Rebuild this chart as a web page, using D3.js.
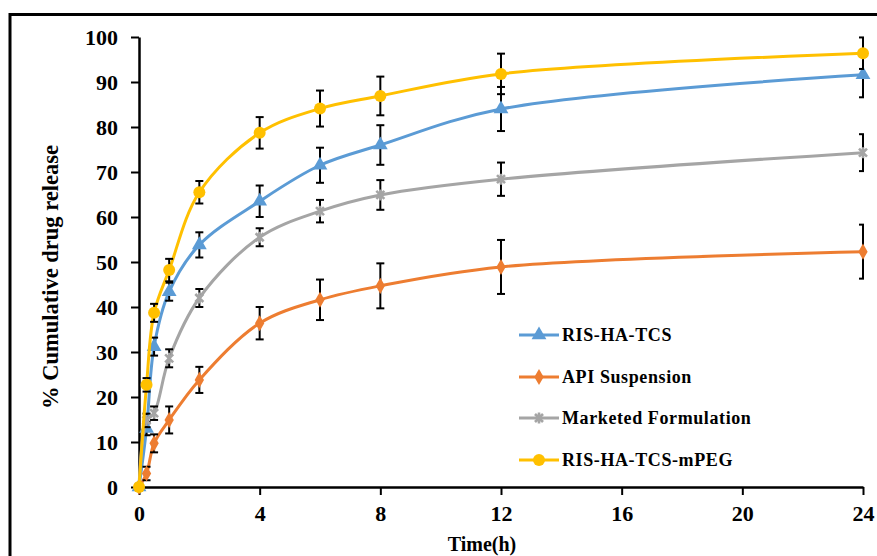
<!DOCTYPE html>
<html>
<head>
<meta charset="utf-8">
<script src="https://cdn.jsdelivr.net/npm/d3@7"></script>
<style>
  body { margin: 0; background: #fff; }
  svg { display: block; font-family: "Liberation Serif", "Times New Roman", serif; font-weight: bold; }
</style>
</head>
<body>
<svg id="chart" width="877" height="556"></svg>
<script>
// time points (h)
var times = [0, 0.25, 0.5, 1, 2, 4, 6, 8, 12, 24];

var risHaTcs      = [0, 13, 31.2, 43.4, 53.8, 63.5, 71.5, 76, 84, 91.6];
var risHaTcsErr   = [0, 1.5, 2, 2, 2.8, 3.5, 3.9, 4.4, 4.9, 5];
var apiSusp       = [0, 3, 9.7, 14.9, 23.8, 36.4, 41.6, 44.7, 48.9, 52.3];
var apiSuspErr    = [0, 1.5, 2, 3, 2.9, 3.6, 4.5, 5, 6, 6];
var marketed      = [0, 14.8, 16.4, 28.6, 42, 55.5, 61.3, 64.9, 68.4, 74.3];
var marketedErr   = [0, 1.5, 1.5, 2, 2, 2, 2.5, 3.3, 3.7, 4.1];
var risMpeg       = [0, 22.7, 38.7, 48.2, 65.5, 78.7, 84.1, 86.9, 91.8, 96.4];
var risMpegErr    = [0, 1.5, 2, 2.5, 2.5, 3.5, 4, 4.3, 4.5, 3.5];

var seriesNames = ["RIS-HA-TCS", "API Suspension", "Marketed Formulation", "RIS-HA-TCS-mPEG"];
var xTicks = [0, 4, 8, 12, 16, 20, 24];
var yTicks = [0, 10, 20, 30, 40, 50, 60, 70, 80, 90, 100];

var series = [
  { name: seriesNames[0], vals: risHaTcs, err: risHaTcsErr, color: "#5b9bd5", marker: "triangle" },
  { name: seriesNames[1], vals: apiSusp,  err: apiSuspErr,  color: "#ed7d31", marker: "diamond" },
  { name: seriesNames[2], vals: marketed, err: marketedErr, color: "#a5a5a5", marker: "star" },
  { name: seriesNames[3], vals: risMpeg,  err: risMpegErr,  color: "#ffc000", marker: "circle" }
];

var svg = d3.select("#chart");

// outer frame (cut off at right & bottom like the source)
svg.append("rect")
  .attr("x", 10).attr("y", 14.5)
  .attr("width", 900).attr("height", 600)
  .attr("fill", "none").attr("stroke", "#000").attr("stroke-width", 3);

var x = d3.scaleLinear().domain([0, 24]).range([139, 863]);
var y = d3.scaleLinear().domain([0, 100]).range([487, 37]);

svg.append("defs").append("clipPath").attr("id", "plotclip")
  .append("rect").attr("x", 120).attr("y", 20).attr("width", 744).attr("height", 480);

// axes
var gx = svg.append("g")
  .attr("transform", "translate(0," + y(0) + ")")
  .call(d3.axisBottom(x).tickValues(xTicks).tickSize(8).tickPadding(10).tickSizeOuter(0));
var gy = svg.append("g")
  .attr("transform", "translate(" + x(0) + ",0)")
  .call(d3.axisLeft(y).tickValues(yTicks).tickSize(8).tickPadding(13).tickSizeOuter(0));

[gx, gy].forEach(function(g) {
  g.select(".domain").attr("stroke-width", 2.5);
  g.selectAll(".tick line").attr("stroke-width", 2);
  g.selectAll(".tick text")
    .attr("font-family", "Liberation Serif, Times New Roman, serif")
    .attr("font-weight", "bold").attr("font-size", 22).attr("fill", "#000");
});

svg.append("text")
  .attr("x", 482).attr("y", 551)
  .attr("text-anchor", "middle").attr("font-size", 20)
  .text("Time(h)");

svg.append("text")
  .attr("transform", "translate(58,277) rotate(-90)")
  .attr("text-anchor", "middle").attr("font-size", 22.5)
  .text("% Cumulative drug release");

var line = d3.line()
  .x(function(d, i) { return x(times[i]); })
  .y(function(d) { return y(d); })
  .curve(d3.curveCatmullRom.alpha(0.5));

function drawMarker(g, type, color) {
  if (type === "circle") {
    g.append("circle").attr("r", 6).attr("fill", color);
  } else if (type === "triangle") {
    g.append("path").attr("d", d3.symbol(d3.symbolTriangle, 95)()).attr("fill", color);
  } else if (type === "diamond") {
    g.append("path").attr("d", d3.symbol(d3.symbolDiamond, 75)()).attr("fill", color);
  } else {
    g.append("path").attr("d", "M-4,-4L4,4M-4,4L4,-4M0,-5.5L0,5.5")
      .attr("stroke", color).attr("stroke-width", 2.6).attr("fill", "none");
  }
}

series.forEach(function(s) {
  var g = svg.append("g");
  g.append("path")
    .attr("d", line(s.vals))
    .attr("fill", "none").attr("stroke", s.color).attr("stroke-width", 3);

  // error bars
  var eb = g.append("g").attr("clip-path", "url(#plotclip)")
    .attr("stroke", "#000").attr("stroke-width", 2);
  s.vals.forEach(function(v, i) {
    if (!s.err[i]) return;
    var cx = x(times[i]), y1 = y(v + s.err[i]), y2 = y(v - s.err[i]);
    eb.append("line").attr("x1", cx).attr("x2", cx).attr("y1", y1).attr("y2", y2);
    eb.append("line").attr("x1", cx - 4).attr("x2", cx + 4).attr("y1", y1).attr("y2", y1);
    eb.append("line").attr("x1", cx - 4).attr("x2", cx + 4).attr("y1", y2).attr("y2", y2);
  });

  s.vals.forEach(function(v, i) {
    var m = g.append("g").attr("transform", "translate(" + x(times[i]) + "," + y(v) + ")");
    drawMarker(m, s.marker, s.color);
  });
});

// legend
var legendY = [335, 377, 418, 460];
var legend = svg.append("g").selectAll("g")
  .data(series)
  .enter().append("g")
    .attr("transform", function(d, i) { return "translate(519," + legendY[i] + ")"; });

legend.append("line")
  .attr("x1", 0).attr("x2", 40)
  .attr("stroke", function(d) { return d.color; }).attr("stroke-width", 3);
legend.each(function(d) {
  var m = d3.select(this).append("g").attr("transform", "translate(20,0)");
  drawMarker(m, d.marker, d.color);
});
legend.append("text")
  .attr("x", 43).attr("dy", "0.35em")
  .attr("font-size", 18)
  .attr("letter-spacing", 0.6)
  .text(function(d) { return d.name; });
</script>
</body>
</html>
